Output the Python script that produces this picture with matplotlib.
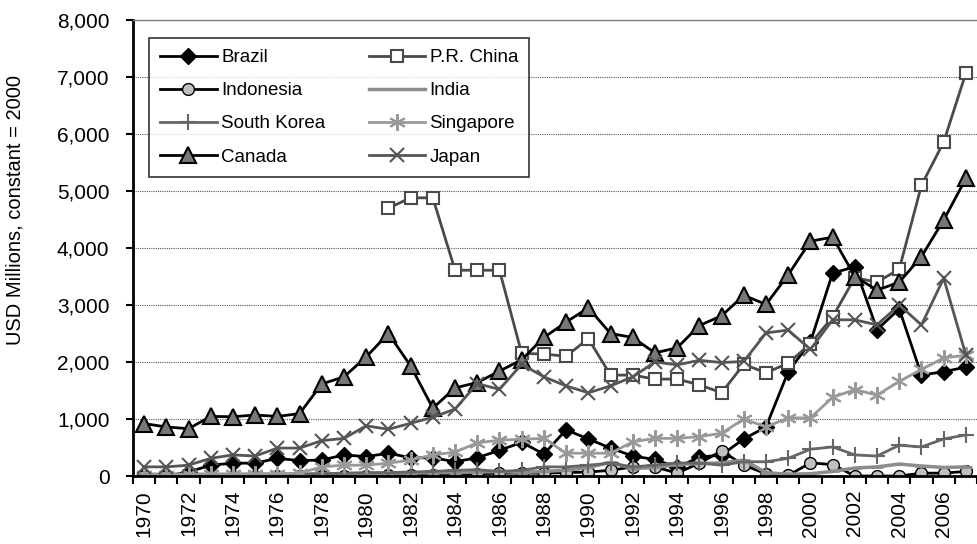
import matplotlib.pyplot as plt
from matplotlib.ticker import FuncFormatter, MultipleLocator
import numpy as np

plt.rcParams['font.family'] = ['Liberation Sans', 'DejaVu Sans']
plt.rcParams['font.size'] = 15

# Datos (USD millones, constante = 2000)
years = list(range(1970, 2008))

brazil = [0, 0, 70, 190, 225, 225, 310, 270, 280, 370,
          340, 400, 320, 320, 250, 320, 450, 590, 385, 810,
          650, 490, 350, 290, 150, 330, 370, 650, 860, 1830,
          2350, 3560, 3670, 2570, 2930, 1770, 1830, 1910]

china = [None] * 11 + [4700, 4880, 4880, 3610, 3610, 3610, 2150, 2140, 2100,
                       2410, 1770, 1770, 1700, 1700, 1600, 1460, 1960, 1810, 1980,
                       2320, 2790, 3480, 3400, 3630, 5100, 5860, 7070]

indonesia = [0, 0, 0, 0, 0, 0, 0, 0, 0, 0,
             0, 10, 10, 10, 30, 40, 50, 50, 50, 60,
             70, 100, 160, 160, 50, 225, 440, 190, 40, 10,
             230, 200, 0, 0, 0, 50, 50, 80]

india = [30, 30, 30, 30, 30, 30, 30, 30, 40, 40,
         40, 50, 50, 60, 60, 70, 80, 60, 80, 100,
         150, 240, 130, 150, 200, 220, 230, 280, 60, 30,
         40, 80, 140, 160, 210, 175, 150, 160]

korea = [0, 0, 10, 10, 20, 20, 30, 30, 40, 50,
         60, 60, 70, 80, 100, 110, 80, 100, 160, 160,
         190, 225, 160, 190, 230, 225, 190, 250, 250, 310,
         470, 510, 370, 350, 540, 510, 650, 720]

singapore = [20, 20, 30, 30, 30, 40, 40, 50, 160, 190,
             190, 225, 280, 370, 420, 580, 630, 645, 660, 400,
             400, 400, 600, 660, 660, 690, 750, 1000, 860, 1020,
             1020, 1380, 1515, 1420, 1660, 1870, 2070, 2120]

canada = [920, 860, 830, 1045, 1040, 1070, 1045, 1095, 1615, 1740,
          2090, 2500, 1930, 1190, 1545, 1640, 1840, 2040, 2430, 2700,
          2950, 2500, 2430, 2160, 2250, 2640, 2810, 3170, 3010, 3530,
          4120, 4190, 3500, 3260, 3400, 3850, 4490, 5220]

japan = [160, 160, 190, 310, 370, 350, 490, 490, 620, 660,
         880, 820, 925, 1030, 1175, 1620, 1520, 1960, 1740, 1580,
         1460, 1580, 1740, 2000, 1950, 2030, 1990, 2010, 2510, 2560,
         2220, 2740, 2740, 2650, 3000, 2650, 3470, 2120]

fig = plt.figure(figsize=(9.77, 5.44), dpi=100)
ax = fig.add_axes([133 / 977, 1 - 476 / 544, 1 - 133 / 977, (476 - 20) / 544])

def arr(v):
    return np.array([np.nan if x is None else x for x in v], dtype=float)

lw = 2
h_bra, = ax.plot(years, brazil, color='black', lw=lw, marker='D', ms=8.5,
                 mfc='black', mec='black', label='Brazil')
h_chi, = ax.plot(years, arr(china), color='#4a4a4a', lw=lw, marker='s', ms=9,
                 mfc='white', mec='#4a4a4a', mew=1.5, label='P.R. China')
h_ind, = ax.plot(years, indonesia, color='black', lw=lw, marker='o', ms=8.5,
                 mfc='#c0c0c0', mec='black', mew=1, label='Indonesia')
h_inda, = ax.plot(years, india, color='#8c8c8c', lw=2.5, marker='_', ms=8,
                  mew=2, label='India')
h_kor, = ax.plot(years, korea, color='#666666', lw=lw, marker='+', ms=11,
                 mew=1.5, label='South Korea')
h_sin, = ax.plot(years, singapore, color='#999999', lw=lw, marker=(6, 2, 0), ms=12,
                 mew=1.5, label='Singapore')
h_can, = ax.plot(years, canada, color='black', lw=lw, marker='^', ms=11.5,
                 mfc='#777777', mec='black', mew=1.5, label='Canada')
h_jap, = ax.plot(years, japan, color='#555555', lw=lw, marker='x', ms=10,
                 mew=1.5, label='Japan')

ax.set_xlim(1969.5, 1970 + (977 - 145) / 22.36)
ax.set_ylim(0, 8000)

ax.set_xticks(list(range(1970, 2008, 2)))
ax.set_xticklabels([str(y) for y in range(1970, 2008, 2)], rotation=90)
ax.set_xticks(np.arange(1969.5, 2008, 1), minor=True)
ax.tick_params(axis='x', which='major', length=0, pad=10)
ax.tick_params(axis='x', which='minor', length=6, width=1.5, direction='out')

ax.yaxis.set_major_locator(MultipleLocator(1000))
ax.yaxis.set_major_formatter(FuncFormatter(lambda v, p: f'{int(v):,}'))
ax.tick_params(axis='y', length=5, width=1.5, direction='out', pad=12)

ax.grid(axis='y', color='#555555', linestyle=(0, (1, 1)), linewidth=0.8)
ax.set_axisbelow(True)

ax.spines['left'].set_linewidth(2)
ax.spines['bottom'].set_linewidth(2)
ax.spines['top'].set_color('#808080')
ax.spines['top'].set_linewidth(1)
ax.spines['right'].set_visible(False)

fig.text(15 / 977, 1 - 210 / 544, 'USD Millions, constant = 2000',
         rotation=90, ha='center', va='center', fontsize=14.5)

leg = ax.legend([h_bra, h_ind, h_kor, h_can, h_chi, h_inda, h_sin, h_jap],
                ['Brazil', 'Indonesia', 'South Korea', 'Canada',
                 'P.R. China', 'India', 'Singapore', 'Japan'],
                ncol=2, loc='upper left', fontsize=13.5,
                bbox_to_anchor=((149 - 133) / 844, (476 - 38) / 456),
                borderaxespad=0, frameon=True, fancybox=False,
                handlelength=3, handletextpad=0.25, columnspacing=2.3,
                labelspacing=0.85, borderpad=0.6)
leg.get_frame().set_edgecolor('black')
leg.get_frame().set_linewidth(1.2)

fig.savefig('out.png', dpi=100)
